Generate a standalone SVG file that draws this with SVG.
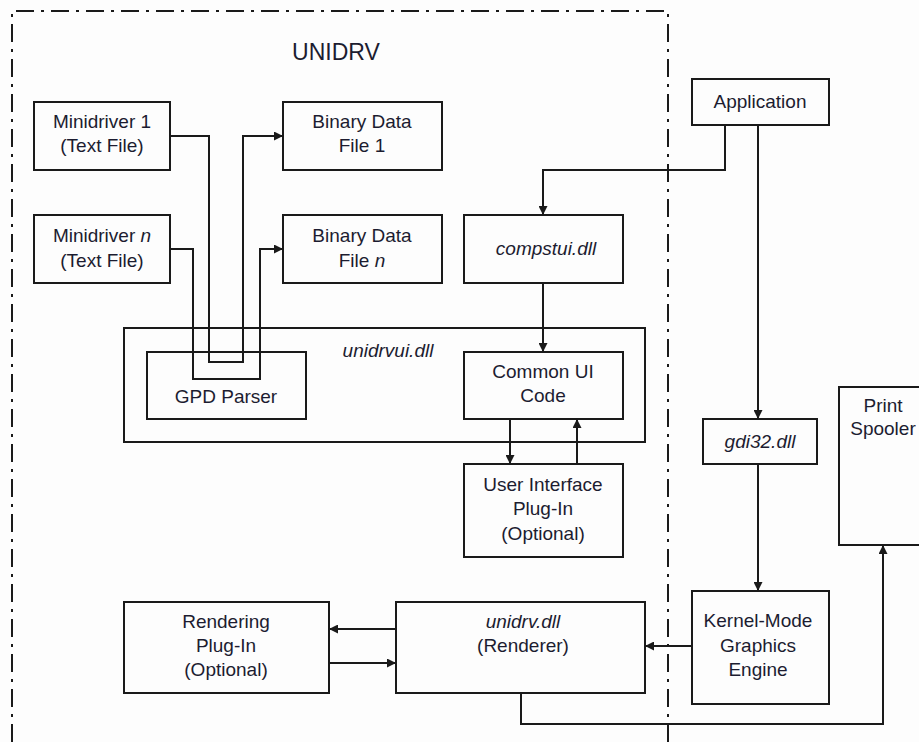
<svg xmlns="http://www.w3.org/2000/svg" width="919" height="742" viewBox="0 0 919 742">
<style>
.bg{fill:#fdfdfd}
.box{fill:none;stroke:#1a1a1a;stroke-width:2}
.ln{fill:none;stroke:#1a1a1a;stroke-width:2}
.bd{fill:none;stroke:#1a1a1a;stroke-width:2;stroke-dasharray:18 7 3 7}
text{font-family:"Liberation Sans",Arial,sans-serif;font-size:19px;fill:#1c1c30;text-anchor:middle}
.it{font-style:italic}
.title{font-size:23px}
</style>
<defs>
<marker id="ah" viewBox="0 0 10 10" refX="10" refY="5" markerWidth="9" markerHeight="9" markerUnits="userSpaceOnUse" orient="auto">
<path d="M0,0 L10,5 L0,10 Z" fill="#1a1a1a"/>
</marker>
</defs>
<rect class="bg" x="0" y="0" width="919" height="742"/>
<g id="boundary">
<path class="bd" d="M12,742 V11 H668 V742"/>
<text class="title" x="336" y="60">UNIDRV</text>
</g>
<g id="minidriver1"><rect class="box" x="34" y="102" width="136" height="68"/><text x="102" y="128">Minidriver 1</text><text x="102" y="152">(Text File)</text></g>
<g id="binary1"><rect class="box" x="283" y="102" width="159" height="68"/><text x="362" y="128">Binary Data</text><text x="362" y="152">File 1</text></g>
<g id="minidrivern"><rect class="box" x="34" y="215" width="136" height="68"/><text x="102" y="242">Minidriver <tspan class="it">n</tspan></text><text x="102" y="267">(Text File)</text></g>
<g id="binaryn"><rect class="box" x="283" y="215" width="159" height="68"/><text x="362" y="242">Binary Data</text><text x="362" y="267">File  <tspan class="it">n</tspan></text></g>
<g id="unidrvui"><rect class="box" x="124" y="328" width="521" height="114"/><text class="it" x="388" y="357">unidrvui.dll</text></g>
<g id="gpdparser"><rect class="box" x="147" y="352" width="159" height="67"/><text x="226" y="403">GPD Parser</text></g>
<g id="commonui"><rect class="box" x="464" y="352" width="159" height="67"/><text x="543" y="378">Common UI</text><text x="543" y="402">Code</text></g>
<g id="compstui"><rect class="box" x="464" y="215" width="159" height="68"/><text class="it" x="546" y="255">compstui.dll</text></g>
<g id="application"><rect class="box" x="692" y="79" width="137" height="46"/><text x="760" y="108">Application</text></g>
<g id="gdi32"><rect class="box" x="703" y="419" width="114" height="45"/><text class="it" x="760" y="448">gdi32.dll</text></g>
<g id="kernel"><rect class="box" x="692" y="591" width="137" height="113"/><text x="758" y="627">Kernel-Mode</text><text x="758" y="652">Graphics</text><text x="758" y="676">Engine</text></g>
<g id="spooler"><rect class="box" x="839" y="387" width="90" height="158"/><text x="883" y="412">Print</text><text x="883" y="435">Spooler</text></g>
<g id="uiplugin"><rect class="box" x="464" y="464" width="159" height="93"/><text x="543" y="491">User Interface</text><text x="543" y="515">Plug-In</text><text x="543" y="540">(Optional)</text></g>
<g id="renderplugin"><rect class="box" x="124" y="602" width="205" height="91"/><text x="226" y="628">Rendering</text><text x="226" y="652">Plug-In</text><text x="226" y="676">(Optional)</text></g>
<g id="unidrv"><rect class="box" x="396" y="602" width="249" height="91"/><text class="it" x="523" y="628">unidrv.dll</text><text x="523" y="652">(Renderer)</text></g>
<g id="connectors">
<path class="ln" marker-end="url(#ah)" d="M170,136 H209 V362 H243 V136 H283"/>
<path class="ln" marker-end="url(#ah)" d="M170,249 H193 V379 H260 V249 H283"/>
<path class="ln" marker-end="url(#ah)" d="M725,125 V170 H543 V215"/>
<path class="ln" marker-end="url(#ah)" d="M758,125 V419"/>
<path class="ln" marker-end="url(#ah)" d="M543,283 V352"/>
<path class="ln" marker-end="url(#ah)" d="M758,464 V591"/>
<path class="ln" marker-end="url(#ah)" d="M510,419 V464"/>
<path class="ln" marker-end="url(#ah)" d="M577,464 V419"/>
<path class="ln" marker-end="url(#ah)" d="M396,629 H329"/>
<path class="ln" marker-end="url(#ah)" d="M329,663 H396"/>
<path class="ln" marker-end="url(#ah)" d="M692,646 H645"/>
<path class="ln" marker-end="url(#ah)" d="M521,693 V724 H883 V545"/>
</g>
</svg>
